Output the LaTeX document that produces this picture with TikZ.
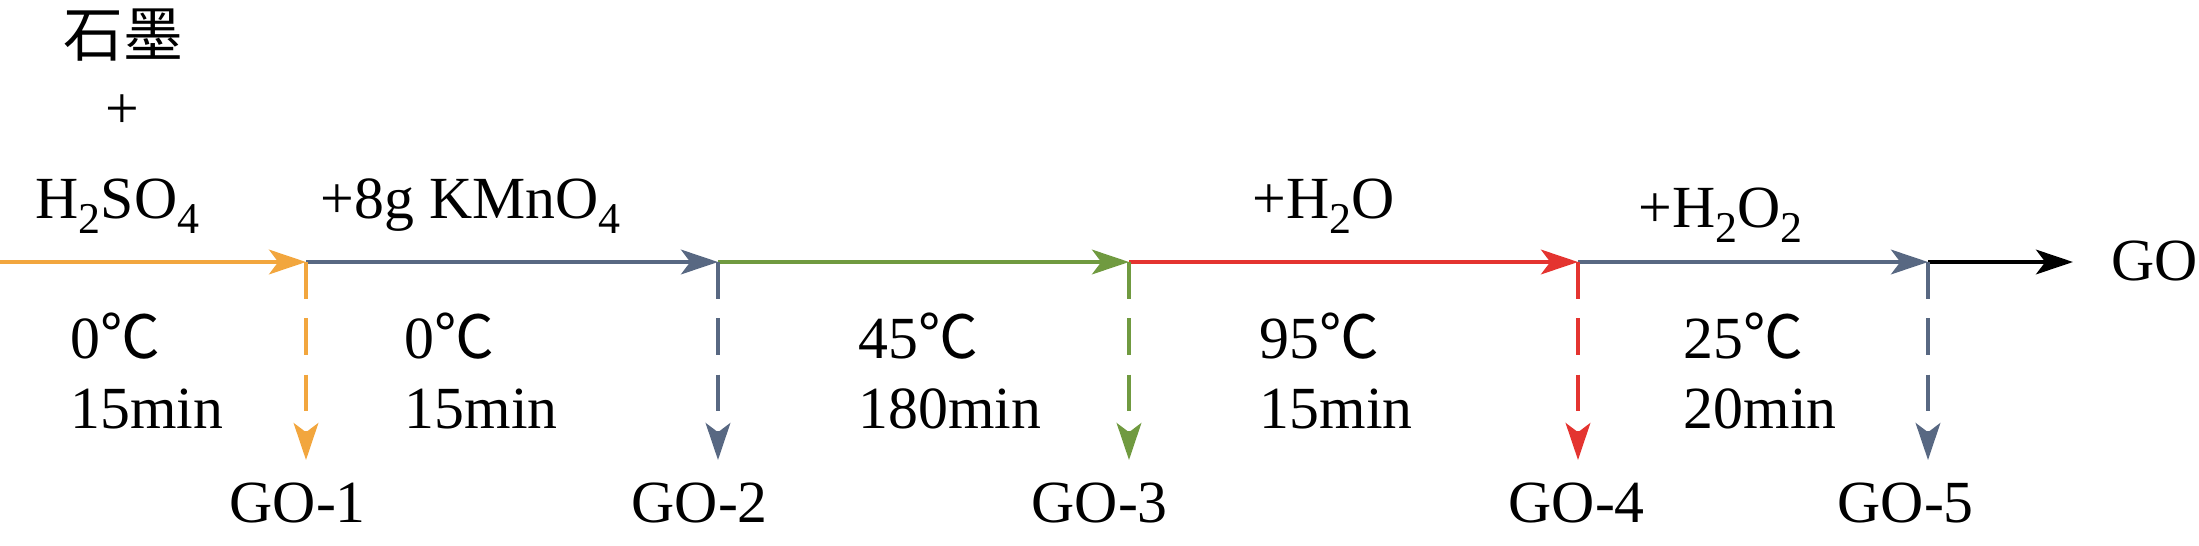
\documentclass[tikz,border=0pt]{standalone}
\usepackage{fontspec}
\setmainfont{Liberation Serif}
\newfontfamily\cjk{Noto Sans CJK SC}
\usetikzlibrary{arrows.meta}
\definecolor{cOrange}{RGB}{242,166,62}
\definecolor{cSlate}{RGB}{88,104,130}
\definecolor{cGreen}{RGB}{112,154,64}
\definecolor{cRed}{RGB}{228,52,48}
\newcommand{\degc}{{\cjk ℃}}
\newcommand{\chsub}[1]{\raisebox{-4.5pt}{\fontsize{12.5}{13}\selectfont #1}}
\begin{document}
\begin{tikzpicture}[x=0.01cm,y=-0.01cm,
  flow/.style={line width=1.15pt,-{Stealth[length=10.5pt,width=7pt,inset=2.6pt]}},
  drop/.style={flow,dash pattern=on 10.5pt off 5.5pt},
  txt/.style={font=\fontsize{17}{20}\selectfont,inner sep=0pt,anchor=base west},
]
\useasboundingbox (0,0) rectangle (2199,545);
\coordinate (S) at (0,262);
\coordinate (J1) at (306,262);
\coordinate (J2) at (718,262);
\coordinate (J3) at (1129,262);
\coordinate (J4) at (1578,262);
\coordinate (J5) at (1928,262);
\coordinate (E) at (2073,262);
\coordinate (D1) at (306,460);
\coordinate (D2) at (718,460);
\coordinate (D3) at (1129,460);
\coordinate (D4) at (1578,460);
\coordinate (D5) at (1928,460);

\draw[flow,cOrange] (S) -- (J1);
\draw[flow,cSlate] (J1) -- (J2);
\draw[flow,cGreen] (J2) -- (J3);
\draw[flow,cRed] (J3) -- (J4);
\draw[flow,cSlate] (J4) -- (J5);
\draw[flow,black] (J5) -- (E);

\draw[drop,cOrange] (J1) -- (D1);
\draw[drop,cSlate] (J2) -- (D2);
\draw[drop,cGreen] (J3) -- (D3);
\draw[drop,cRed] (J4) -- (D4);
\draw[drop,cSlate] (J5) -- (D5);

\node[txt] (go) at (2111,280) {GO};
\node[txt] (go1) at (229,522) {GO-1};
\node[txt] (go2) at (631,522) {GO-2};
\node[txt] (go3) at (1031,522) {GO-3};
\node[txt] (go4) at (1508,522) {GO-4};
\node[txt] (go5) at (1837,522) {GO-5};

\node[txt,anchor=center] (graphite) at (123,35) {\cjk 石墨};
\node[txt,anchor=center] (plus) at (122,112) {+};
\node[txt] (h2so4) at (35,218) {H\chsub{2}SO\chsub{4}};
\node[txt] (kmno4) at (320,218) {+8g KMnO\chsub{4}};
\node[txt] (h2o) at (1252,218) {+H\chsub{2}O};
\node[txt] (h2o2) at (1638,227) {+H\chsub{2}O\chsub{2}};

\node[txt] (t1) at (70,358) {0\degc};
\node[txt] (m1) at (70,428) {15min};
\node[txt] (t2) at (404,358) {0\degc};
\node[txt] (m2) at (404,428) {15min};
\node[txt] (t3) at (858,358) {45\degc};
\node[txt] (m3) at (858,428) {180min};
\node[txt] (t4) at (1259,358) {95\degc};
\node[txt] (m4) at (1259,428) {15min};
\node[txt] (t5) at (1683,358) {25\degc};
\node[txt] (m5) at (1683,428) {20min};
\end{tikzpicture}
\end{document}
